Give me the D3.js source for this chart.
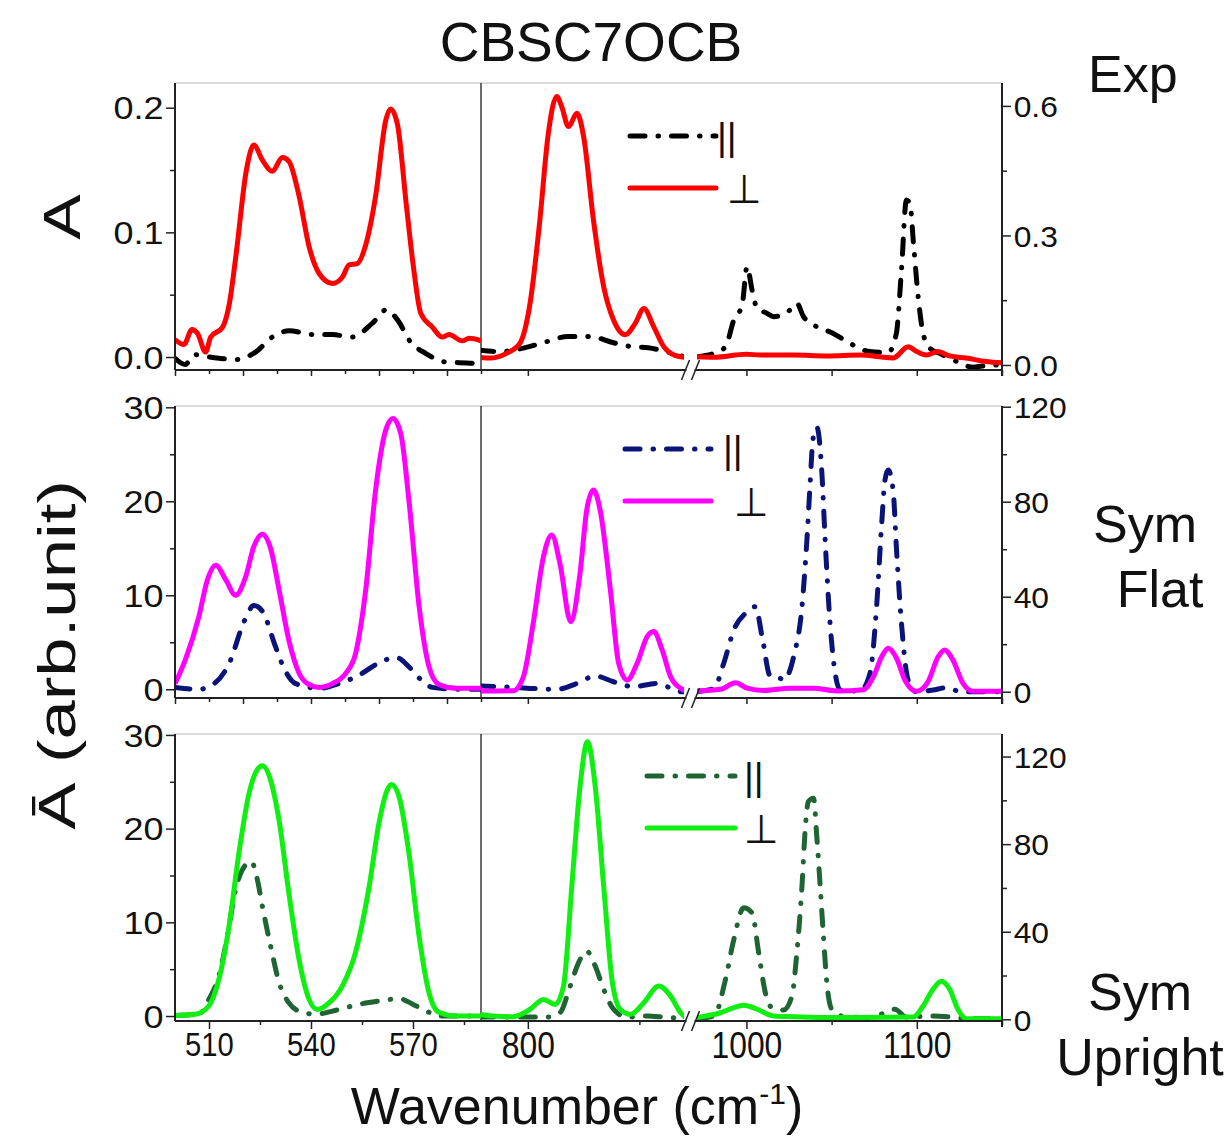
<!DOCTYPE html>
<html>
<head>
<meta charset="utf-8">
<script src="https://cdn.jsdelivr.net/npm/d3@7"></script>
<style>
  body { margin: 0; background: #fff; }
  svg { display: block; }
</style>
</head>
<body>
<div id="chart"></div>
<script>
// ---- Data: [wavenumber, absorbance] ----
// Exp panel (left axis for 500-590, right axis for the high range)
const expParLow = [[500,-0.001],[503,-0.006],[505.6,0.002],[510,0],[513,-0.001],[518,-0.002],[523.7,0.004],[528.6,0.016],[533.5,0.021],[541,0.018],[546.3,0.018],[552,0.016],[558,0.027],[562.2,0.038],[565.4,0.030],[569.3,0.012],[573.7,0.003],[579.6,-0.004],[587.4,-0.005],[590,-0.007]];
const expPerpLow = [[500,0.014],[502.6,0.010],[505,0.022],[506.6,0.019],[509,0.004],[510.5,0.016],[514,0.024],[516,0.043],[518,0.083],[521,0.150],[523.2,0.170],[525.7,0.158],[528.6,0.149],[531.6,0.160],[533.5,0.157],[536.5,0.129],[539.4,0.089],[542.4,0.067],[546.3,0.059],[549.2,0.064],[551.2,0.074],[553.6,0.075],[556,0.089],[559,0.129],[562,0.190],[563.4,0.199],[565.4,0.187],[568,0.123],[570,0.075],[572.3,0.035],[575.7,0.024],[578.6,0.016],[580.6,0.018],[584.5,0.013],[586.5,0.015],[590,0.013]];
const expParMid = [[778,0.035],[787.4,0.031],[798,0.039],[808.4,0.054],[818,0.066],[828,0.066],[838,0.052],[846,0.043],[854,0.040],[862,0.031],[870,0.019]];
const expPerpMid = [[778,0.018],[783,0.016],[790.4,0.027],[796.4,0.050],[801,0.143],[805.4,0.336],[809,0.529],[813,0.622],[815.2,0.598],[818.2,0.552],[822,0.583],[825,0.529],[829.4,0.336],[834,0.181],[838.4,0.104],[843.7,0.070],[848.2,0.097],[852,0.131],[856.4,0.089],[861,0.042],[865.5,0.023],[870,0.018]];
const expParHigh = [[971,0.019],[981,0.027],[987.7,0.042],[992.6,0.104],[997.5,0.139],[1000.4,0.228],[1003.3,0.174],[1006.3,0.131],[1012,0.120],[1016,0.112],[1023.8,0.121],[1029.6,0.143],[1033.5,0.112],[1039.4,0.093],[1051,0.073],[1060.8,0.050],[1072.5,0.031],[1083.2,0.029],[1088,0.073],[1091,0.220],[1093.9,0.382],[1095.9,0.375],[1098.2,0.274],[1100.8,0.158],[1103.7,0.073],[1107.6,0.039],[1113.5,0.027],[1121.3,0.012],[1133,-0.005],[1144,0.0],[1150,0.0]];
const expPerpHigh = [[971,0.019],[981,0.018],[1000,0.025],[1008,0.023],[1020,0.023],[1028,0.023],[1047,0.021],[1067,0.023],[1078,0.019],[1086,0.016],[1095,0.042],[1100,0.031],[1105.6,0.023],[1112.4,0.031],[1119.3,0.021],[1129,0.016],[1140.7,0.008],[1150,0.005]];

// Sym Flat panel
const flatParLow = [[500,0.2],[507,0],[511.5,0.6],[516,2.8],[520.3,7.2],[523.2,8.9],[525.7,8.3],[529.6,4.5],[532.1,2.2],[535.5,0.6],[542.4,0.1],[548.2,0.6],[554.1,1.5],[560,2.8],[564.9,3.4],[568.8,2.4],[571.8,1.2],[575.7,0.2],[582.6,0],[590,0]];
const flatPerpLow = [[500,0.6],[503,3.1],[507,7.7],[509.5,11.6],[512,13.2],[515,11.6],[517.8,10.0],[520.8,12.0],[523.2,15.2],[525.7,16.5],[528.1,15.0],[530.6,10.6],[533.5,5.2],[536.5,1.7],[539.4,0.5],[542.4,0.2],[546.3,0.6],[550.2,1.7],[553.1,3.8],[556.1,10.6],[559,21.2],[562,27.6],[564.1,28.8],[566.4,27.2],[568.8,20.1],[571.8,8.8],[574.7,2.4],[577.6,0.5],[582.6,0.1],[590,0.1]];
const flatParMid = [[778,2.4],[787.4,2.1],[801,1.4],[813,1.0],[822,3.5],[830.2,6.6],[838.4,4.2],[847.4,2.1],[858,3.5],[868.5,0],[871,0]];
const flatPerpMid = [[778,0.3],[793.4,0.4],[798,6.3],[802.4,28.8],[807,56.8],[810.7,66],[814.4,54],[819.2,29.5],[823.4,49.9],[826.4,76.5],[829.4,84.9],[832.4,76.5],[837,42.8],[840.7,12],[844.5,4.9],[849,12],[853.5,23.2],[856.4,25.3],[860.2,17.6],[864,6.3],[868.5,1.4],[871.5,0.3]];
const flatParHigh = [[971,0],[981,1.4],[986.7,12],[992.6,26],[999.4,33],[1005.3,35.8],[1009.2,23.2],[1014,6.5],[1019.9,5.6],[1021.8,4.9],[1027.7,14.7],[1032.6,35.8],[1035.5,63.9],[1037.4,87.7],[1039,106],[1041.4,111.3],[1044.3,92],[1046.2,63.9],[1049.1,28.8],[1052.1,7.7],[1055,0.7],[1066.7,0.3],[1072.5,7.7],[1076.4,35.8],[1079.4,70.9],[1081.3,89.1],[1083.2,93.3],[1086.1,84.9],[1088.1,59.7],[1091,28.8],[1094.9,4.9],[1099.8,0],[1109.5,0.7],[1117.3,1.7],[1126.1,0],[1150,0]];
const flatPerpHigh = [[971,0.3],[984.8,1.0],[993.6,3.8],[1000.4,1.5],[1010,0.5],[1025.7,1.5],[1039.4,1.5],[1053,0.3],[1068.6,0.8],[1074.5,6.3],[1079.4,14.7],[1083.2,18.3],[1088.1,14.1],[1093,4.9],[1099.8,0.2],[1106.6,4.2],[1112.5,14.7],[1116.4,17.6],[1121.2,13.3],[1127.1,3.5],[1133,0.2],[1150,0.2]];

// Sym Upright panel
const uprightParLow = [[500,0.07],[507,0.2],[510,1.8],[512.9,4.3],[515.4,8.5],[517.8,13.5],[519.8,15.6],[522.4,16.5],[524.2,14.6],[525.7,11.7],[528.1,7.5],[530.6,3.6],[533.5,1.4],[537.4,0.4],[541.3,0.2],[548.2,0.7],[554.1,1.25],[560,1.6],[565.9,1.85],[570.8,1.1],[574.7,0.4],[577.6,0],[590,0]];
const uprightPerpLow = [[500,0.07],[506,0.2],[510,1.1],[512.9,3.9],[515.9,9.6],[518.8,17.4],[521.8,23.8],[524.2,26.3],[525.7,26.7],[528.1,25.2],[530.6,20.9],[533.5,13.1],[536.5,6.0],[539.4,1.8],[541.9,0.7],[545.3,1.4],[549.2,3.2],[553.1,6.8],[557.1,13.8],[560,20.6],[562.4,24.1],[563.7,24.7],[565.9,23.4],[568.8,17.4],[571.8,8.5],[574.7,2.5],[577.6,0.4],[582.6,0],[590,0]];
const uprightParMid = [[778,1.0],[790,1.0],[808.4,1.0],[814.4,3.0],[819,15.2],[822.7,25.8],[826.4,31.1],[830.2,24.3],[834,13.7],[838.4,4.6],[844.5,1.0],[853.5,1.5],[861,1.0],[870,0.3]];
const uprightPerpMid = [[778,2.3],[784.4,1.5],[793.4,1.2],[801,4.6],[807,9.1],[812.2,6.8],[816,15.2],[819.7,60.7],[823.4,106.3],[826.7,126.8],[830.2,106.3],[834,60.7],[837.7,18.2],[841.4,4.6],[846,2.3],[852,7.6],[858.7,15.2],[864,10.6],[868.5,3.0],[870.7,0.8]];
const uprightParHigh = [[971,0.3],[981,1.5],[987.7,18.2],[992.6,36.4],[998.4,50.9],[1003.3,48.6],[1007.2,30.4],[1011.1,12.2],[1015,5.3],[1020,4.6],[1021.8,4.2],[1026.7,10.6],[1029.6,30.4],[1032.6,60.7],[1034.5,86.6],[1036.4,99.5],[1039.4,101],[1041.3,83.5],[1043.3,60.7],[1045.2,38],[1047.2,16.7],[1050.1,4.6],[1058.9,1.0],[1072.5,0.8],[1080.3,2.7],[1087.1,4.6],[1094,1.0],[1109.5,1.5],[1120.2,1.0],[1129,0.3],[1150,0.3]];
const uprightPerpHigh = [[971,0.8],[984.8,3.0],[992.6,5.3],[998.4,6.4],[1006.3,4.6],[1016,1.5],[1027.7,1.2],[1047.2,0.8],[1066.7,0.8],[1097.8,1.0],[1103.7,6.1],[1109.5,13.7],[1114.4,17.4],[1119.3,13.7],[1124.1,4.6],[1129,0.3],[1150,0.3]];

// Tick values
const expLeftTicks = [0, 0.1, 0.2], expLeftMinor = [0.05, 0.15];
const expRightTicks = [0, 0.3, 0.6], expRightMinor = [0.15, 0.45];
const symLeftTicks = [0, 10, 20, 30], symLeftMinor = [5, 15, 25];
const symRightTicks = [0, 40, 80, 120], symRightMinor = [20, 60, 100];
const lowMajor = [500, 520, 540, 560, 580], lowMinor = [510, 530, 550, 570, 590];
const lowLabelTicks = [510, 540, 570], lowLabelMinor = [525, 555, 585];
const midTicks = [800], midMinor = [850];
const highTicks = [1000, 1100], highMinor = [1050, 1150];
const seriesLabels = ["||", "\u22A5"];
const panelNames = [["Exp"], ["Sym", "Flat"], ["Sym", "Upright"]];

// ---- Layout ----
const W = 1232, H = 1137;
const FONT = "'Liberation Sans', Arial, Helvetica, sans-serif";
const xLeft = 175, xDiv = 481, xBreakL = 684, xBreakR = 697, xRight = 1002;

const xLow = d3.scaleLinear().domain([500, 590]).range([xLeft, xDiv]);
const xMid = d3.scaleLinear().domain([779, 870]).range([xDiv, xBreakL]);
const xHigh = d3.scaleLinear().domain([971, 1150]).range([xBreakR, xRight]);

const panels = [
  { top: 83, bottom: 370, leftDomain: [-0.0104, 0.2198], rightDomain: [-0.0116, 0.653],
    leftTicks: expLeftTicks, leftMinor: expLeftMinor, rightTicks: expRightTicks, rightMinor: expRightMinor,
    fmt: d3.format(".1f"),
    par: [expParLow, expParMid, expParHigh], perp: [expPerpLow, expPerpMid, expPerpHigh],
    parColor: "#000000", perpColor: "#ff0000",
    legend: { x0: 630, x1: 716, yPar: 136, yPerp: 188, txPar: 717, txPerp: 727 },
    names: { x: [1088], ys: [92], anchor: "start" }, labelled: false },
  { top: 406, bottom: 698, leftDomain: [-0.93, 30.14], rightDomain: [-2.65, 120.3],
    leftTicks: symLeftTicks, leftMinor: symLeftMinor, rightTicks: symRightTicks, rightMinor: symRightMinor,
    fmt: d3.format("d"),
    par: [flatParLow, flatParMid, flatParHigh], perp: [flatPerpLow, flatPerpMid, flatPerpHigh],
    parColor: "#0a1478", perpColor: "#ff00ff",
    legend: { x0: 625, x1: 711, yPar: 449, yPerp: 501, txPar: 723, txPerp: 734 },
    names: { x: [1145, 1160], ys: [542, 607], anchor: "middle" }, labelled: false },
  { top: 734, bottom: 1021, leftDomain: [-0.53, 30.1], rightDomain: [-0.77, 130.3],
    leftTicks: symLeftTicks, leftMinor: symLeftMinor, rightTicks: symRightTicks, rightMinor: symRightMinor,
    fmt: d3.format("d"),
    par: [uprightParLow, uprightParMid, uprightParHigh], perp: [uprightPerpLow, uprightPerpMid, uprightPerpHigh],
    parColor: "#1f6433", perpColor: "#11ee11",
    legend: { x0: 647, x1: 735, yPar: 776, yPerp: 828, txPar: 744, txPerp: 744 },
    names: { x: [1140, 1140], ys: [1010, 1075], anchor: "middle" }, labelled: true }
];

const svg = d3.select("#chart").append("svg")
  .attr("width", W).attr("height", H)
  .style("font-family", FONT);
const defs = svg.append("defs");

const segments = [
  { x: xLow, a: xLeft, b: xDiv, side: "left" },
  { x: xMid, a: xDiv, b: xBreakL, side: "right" },
  { x: xHigh, a: xBreakR, b: xRight, side: "right" }
];

// draw one set of ticks into its own group (major / minor kept separate)
function tickGroup(parent, axis) {
  const ax = parent.append("g").call(axis);
  ax.selectAll(".domain").remove();
  ax.selectAll("line").attr("stroke", "#222").attr("stroke-width", 1.5);
  return ax;
}

panels.forEach((p, i) => {
  const yL = d3.scaleLinear().domain(p.leftDomain).range([p.bottom, p.top]);
  const yR = d3.scaleLinear().domain(p.rightDomain).range([p.bottom, p.top]);
  const g = svg.append("g");

  // frame: light top line, divider
  g.append("line").attr("x1", xLeft).attr("x2", xRight).attr("y1", p.top).attr("y2", p.top)
    .attr("stroke", "#cfcfcf").attr("stroke-width", 1.5);
  g.append("line").attr("x1", xDiv).attr("x2", xDiv).attr("y1", p.top).attr("y2", p.bottom)
    .attr("stroke", "#3a3a3a").attr("stroke-width", 1.5);

  // curves
  segments.forEach((s, k) => {
    const id = `clip-${i}-${k}`;
    defs.append("clipPath").attr("id", id).append("rect")
      .attr("x", s.a).attr("y", p.top).attr("width", s.b - s.a).attr("height", p.bottom - p.top + 3);
    const y = s.side === "left" ? yL : yR;
    const line = d3.line().x(d => s.x(d[0])).y(d => y(d[1])).curve(d3.curveMonotoneX);
    const cg = g.append("g").attr("clip-path", `url(#${id})`);
    cg.append("path").attr("d", line(p.par[k]))
      .attr("fill", "none").attr("stroke", p.parColor).attr("stroke-width", 5)
      .attr("stroke-linecap", "round").attr("stroke-linejoin", "round")
      .attr("stroke-dasharray", "15,13,0.5,13");
    cg.append("path").attr("d", line(p.perp[k]))
      .attr("fill", "none").attr("stroke", p.perpColor).attr("stroke-width", 5)
      .attr("stroke-linejoin", "round");
  });

  // left axis
  const leftAxis = g.append("g").attr("transform", `translate(${xLeft},0)`);
  const lMaj = tickGroup(leftAxis, d3.axisLeft(yL).tickValues(p.leftTicks).tickSize(9).tickFormat(p.fmt));
  tickGroup(leftAxis, d3.axisLeft(yL).tickValues(p.leftMinor).tickSize(5).tickFormat(""));
  lMaj.selectAll("text").attr("x", -10).attr("dy", "0.36em")
    .attr("transform", "scale(1.16,1)")
    .style("font-size", "31px").style("font-family", FONT).attr("fill", "#111");
  g.append("line").attr("x1", xLeft).attr("x2", xLeft).attr("y1", p.top).attr("y2", p.bottom)
    .attr("stroke", "#222").attr("stroke-width", 2);

  // right axis
  const rightAxis = g.append("g").attr("transform", `translate(${xRight},0)`);
  const rMaj = tickGroup(rightAxis, d3.axisRight(yR).tickValues(p.rightTicks).tickSize(9).tickFormat(p.fmt));
  tickGroup(rightAxis, d3.axisRight(yR).tickValues(p.rightMinor).tickSize(5).tickFormat(""));
  rMaj.selectAll("text").attr("x", 11).attr("dy", "0.36em")
    .attr("transform", "scale(1.06,1)")
    .style("font-size", "30px").style("font-family", FONT).attr("fill", "#111");
  g.append("line").attr("x1", xRight).attr("x2", xRight).attr("y1", p.top).attr("y2", p.bottom + 6)
    .attr("stroke", "#222").attr("stroke-width", 2);

  // bottom axis ticks
  const bottom = g.append("g").attr("transform", `translate(0,${p.bottom})`);
  const tickSets = p.labelled
    ? [[xLow, lowLabelTicks, lowLabelMinor, 34], [xMid, midTicks, midMinor, 37], [xHigh, highTicks, highMinor, 37]]
    : [[xLow, lowMajor, lowMinor], [xMid, midTicks, []], [xHigh, [1000, 1050, 1100, 1150], []]];
  tickSets.forEach(([sc, major, minor, fs]) => {
    const ax = tickGroup(bottom, d3.axisBottom(sc).tickValues(major).tickSize(p.labelled ? 8 : 6)
      .tickFormat(p.labelled ? d3.format("d") : ""));
    if (minor.length) tickGroup(bottom, d3.axisBottom(sc).tickValues(minor).tickSize(4).tickFormat(""));
    if (p.labelled) {
      ax.selectAll("text").attr("y", 11).attr("dy", "0.71em")
        .attr("transform", "scale(0.86,1)")
        .style("font-size", fs + "px").style("font-family", FONT).attr("fill", "#111");
    }
  });
  g.append("line").attr("x1", xLeft).attr("x2", xRight).attr("y1", p.bottom).attr("y2", p.bottom)
    .attr("stroke", "#222").attr("stroke-width", 2);

  // axis break marks
  const bx = (xBreakL + xBreakR) / 2;
  g.append("rect").attr("x", bx - 4).attr("y", p.bottom - 3).attr("width", 8).attr("height", 6).attr("fill", "#fff");
  [-5, 5].forEach(o => {
    g.append("line").attr("x1", bx + o - 4).attr("y1", p.bottom + 10)
      .attr("x2", bx + o + 4).attr("y2", p.bottom - 10)
      .attr("stroke", "#222").attr("stroke-width", 1.5);
  });

  // legend
  const L = p.legend;
  g.append("line").attr("x1", L.x0).attr("x2", L.x1).attr("y1", L.yPar).attr("y2", L.yPar)
    .attr("stroke", p.parColor).attr("stroke-width", 5).attr("stroke-linecap", "round")
    .attr("stroke-dasharray", "15,13,0.5,13");
  g.append("line").attr("x1", L.x0).attr("x2", L.x1).attr("y1", L.yPerp).attr("y2", L.yPerp)
    .attr("stroke", p.perpColor).attr("stroke-width", 5).attr("stroke-linecap", "round");
  g.append("text").attr("x", L.txPar).attr("y", L.yPar + 14)
    .style("font-size", "38px").attr("fill", "#111")
    .text(seriesLabels[0]);
  g.append("text").attr("x", L.txPerp).attr("y", L.yPerp + 15)
    .style("font-family", "'DejaVu Sans', sans-serif").style("font-size", "40px").attr("fill", "#111")
    .text(seriesLabels[1]);

  // panel names at right
  panelNames[i].forEach((t, j) => {
    svg.append("text").attr("x", p.names.x[j]).attr("y", p.names.ys[j])
      .attr("text-anchor", p.names.anchor)
      .style("font-size", "52px").attr("fill", "#111").text(t);
  });
});

// Title
svg.append("text").attr("x", 591).attr("y", 61).attr("text-anchor", "middle")
  .style("font-size", "55px").attr("fill", "#111").text("CBSC7OCB");

// Y labels (rotated)
svg.append("text").attr("transform", "translate(80,217) rotate(-90) scale(1.3,1)")
  .attr("text-anchor", "middle").style("font-size", "52px").attr("fill", "#111").text("A");
svg.append("text").attr("transform", "translate(75,655) rotate(-90) scale(1.36,1)")
  .attr("text-anchor", "middle").style("font-size", "52px").attr("fill", "#111").text("\u0100 (arb.unit)");

// X label
const xt = svg.append("text").attr("x", 577).attr("y", 1124).attr("text-anchor", "middle")
  .style("font-size", "52px").attr("fill", "#111");
xt.append("tspan").text("Wavenumber (cm");
xt.append("tspan").attr("dy", -20).style("font-size", "30px").text("-1");
xt.append("tspan").attr("dy", 20).text(")");
</script>
</body>
</html>
